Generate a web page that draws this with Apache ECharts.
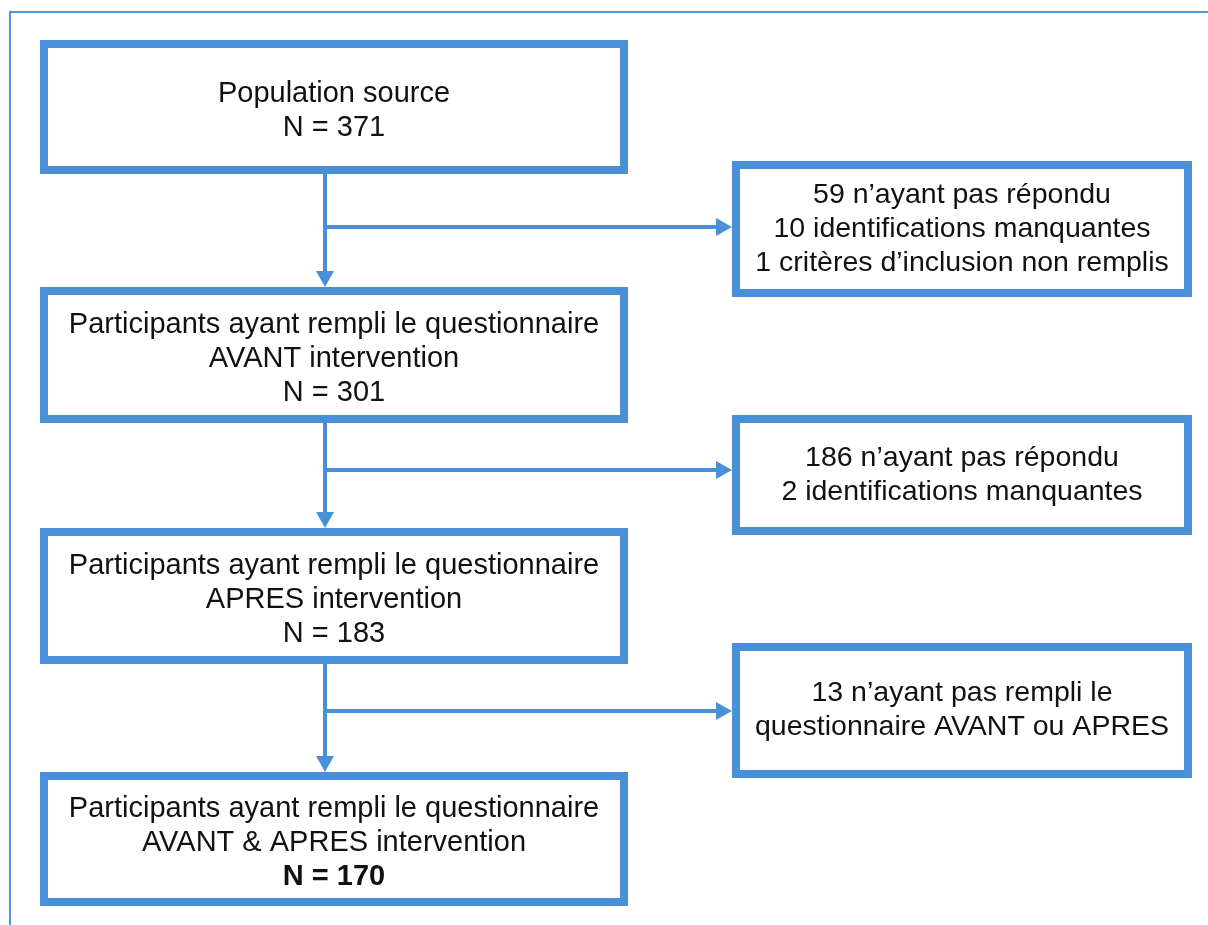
<!DOCTYPE html>
<html lang="fr">
<head>
<meta charset="UTF-8" />
<title>Diagramme de flux</title>
<script src="https://cdn.jsdelivr.net/npm/echarts@6/dist/echarts.min.js"></script>
<style>
  html, body { margin: 0; padding: 0; background: #fff; }
  #chart { width: 1208px; height: 925px; }
</style>
</head>
<body>
<div id="chart"></div>
<script>
  // contenu du diagramme
  const stepLabels = [
    "Population source",
    "Participants ayant rempli le questionnaire\nAVANT intervention",
    "Participants ayant rempli le questionnaire\nAPRES intervention",
    "Participants ayant rempli le questionnaire\nAVANT & APRES intervention"
  ];
  const stepCounts = [371, 301, 183, 170];
  const exclusionLines = [
    ["59 n’ayant pas répondu", "10 identifications manquantes", "1 critères d’inclusion non remplis"],
    ["186 n’ayant pas répondu", "2 identifications manquantes"],
    ["13 n’ayant pas rempli le", "questionnaire AVANT ou APRES"]
  ];

  // mise en page (unités des axes = pixels de la page)
  const mainX = [40, 628];
  const mainY = [[40, 174], [287, 423], [528, 664], [772, 906]];
  const sideX = [732, 1192];
  const sideY = [[161, 297], [415, 535], [643, 778]];
  const branchY = [227, 470, 711];
  const trunkX = 325;

  const BLUE = "#4a90d9";
  const FONT = "'Liberation Sans', Arial, sans-serif";
  const BORDER = 8;

  const chart = echarts.init(document.getElementById("chart"));

  function boxItem(api, x0, x1, y0, y1, richText, size, dy) {
    const p0 = api.coord([x0, y0]);
    const p1 = api.coord([x1, y1]);
    return {
      type: "group",
      children: [
        {
          type: "rect",
          shape: {
            x: p0[0] + BORDER / 2,
            y: p0[1] + BORDER / 2,
            width: p1[0] - p0[0] - BORDER,
            height: p1[1] - p0[1] - BORDER
          },
          style: { fill: "#fff", stroke: BLUE, lineWidth: BORDER }
        },
        {
          type: "text",
          x: (p0[0] + p1[0]) / 2,
          y: (p0[1] + p1[1]) / 2 + dy,
          style: {
            text: richText,
            align: "center",
            verticalAlign: "middle",
            rich: {
              n: { fontFamily: FONT, fontSize: size, lineHeight: 34, fill: "#111", align: "center" },
              b: { fontFamily: FONT, fontSize: size, lineHeight: 34, fill: "#111", fontWeight: "bold", align: "center" }
            }
          }
        }
      ]
    };
  }

  const option = {
    animation: false,
    grid: { left: 0, right: 0, top: 0, bottom: 0 },
    xAxis: { type: "value", min: 0, max: 1208, show: false },
    yAxis: { type: "value", min: 0, max: 925, inverse: true, show: false },
    series: [
      {
        // cadre extérieur
        type: "custom",
        silent: true,
        data: [0],
        renderItem: function (params, api) {
          const a = api.coord([10, 925]);
          const b = api.coord([10, 12]);
          const c = api.coord([1208, 12]);
          return {
            type: "polyline",
            shape: { points: [a, b, c] },
            style: { stroke: "#4f95dc", lineWidth: 2, fill: null }
          };
        }
      },
      {
        // flèches
        type: "custom",
        silent: true,
        data: branchY.map((y, i) => i),
        renderItem: function (params, api) {
          const i = params.dataIndex;
          const top = api.coord([trunkX, mainY[i][1]]);
          const bottom = api.coord([trunkX, mainY[i + 1][0]]);
          const branch = api.coord([trunkX, branchY[i]]);
          const tip = api.coord([sideX[0], branchY[i]]);
          const len = 16, half = 9;
          return {
            type: "group",
            children: [
              {
                type: "line",
                shape: { x1: top[0], y1: top[1], x2: bottom[0], y2: bottom[1] - len + 1 },
                style: { stroke: BLUE, lineWidth: 4 }
              },
              {
                type: "polygon",
                shape: { points: [[bottom[0] - half, bottom[1] - len], [bottom[0] + half, bottom[1] - len], [bottom[0], bottom[1]]] },
                style: { fill: BLUE }
              },
              {
                type: "line",
                shape: { x1: branch[0], y1: branch[1], x2: tip[0] - len + 1, y2: tip[1] },
                style: { stroke: BLUE, lineWidth: 4 }
              },
              {
                type: "polygon",
                shape: { points: [[tip[0] - len, tip[1] - half], [tip[0] - len, tip[1] + half], [tip[0], tip[1]]] },
                style: { fill: BLUE }
              }
            ]
          };
        }
      },
      {
        // étapes principales
        type: "custom",
        silent: true,
        data: stepLabels.map((s, i) => i),
        renderItem: function (params, api) {
          const i = params.dataIndex;
          const lines = stepLabels[i].split("\n").map((l) => "{n|" + l + "}");
          const last = i === stepLabels.length - 1 ? "b" : "n";
          lines.push("{" + last + "|N = " + stepCounts[i] + "}");
          return boxItem(api, mainX[0], mainX[1], mainY[i][0], mainY[i][1], lines.join("\n"), 29, 4);
        }
      },
      {
        // exclusions
        type: "custom",
        silent: true,
        data: exclusionLines.map((s, i) => i),
        renderItem: function (params, api) {
          const i = params.dataIndex;
          const text = exclusionLines[i].map((l) => "{n|" + l + "}").join("\n");
          return boxItem(api, sideX[0], sideX[1], sideY[i][0], sideY[i][1], text, 28.5, 0);
        }
      }
    ]
  };
  chart.setOption(option);
</script>
</body>
</html>
